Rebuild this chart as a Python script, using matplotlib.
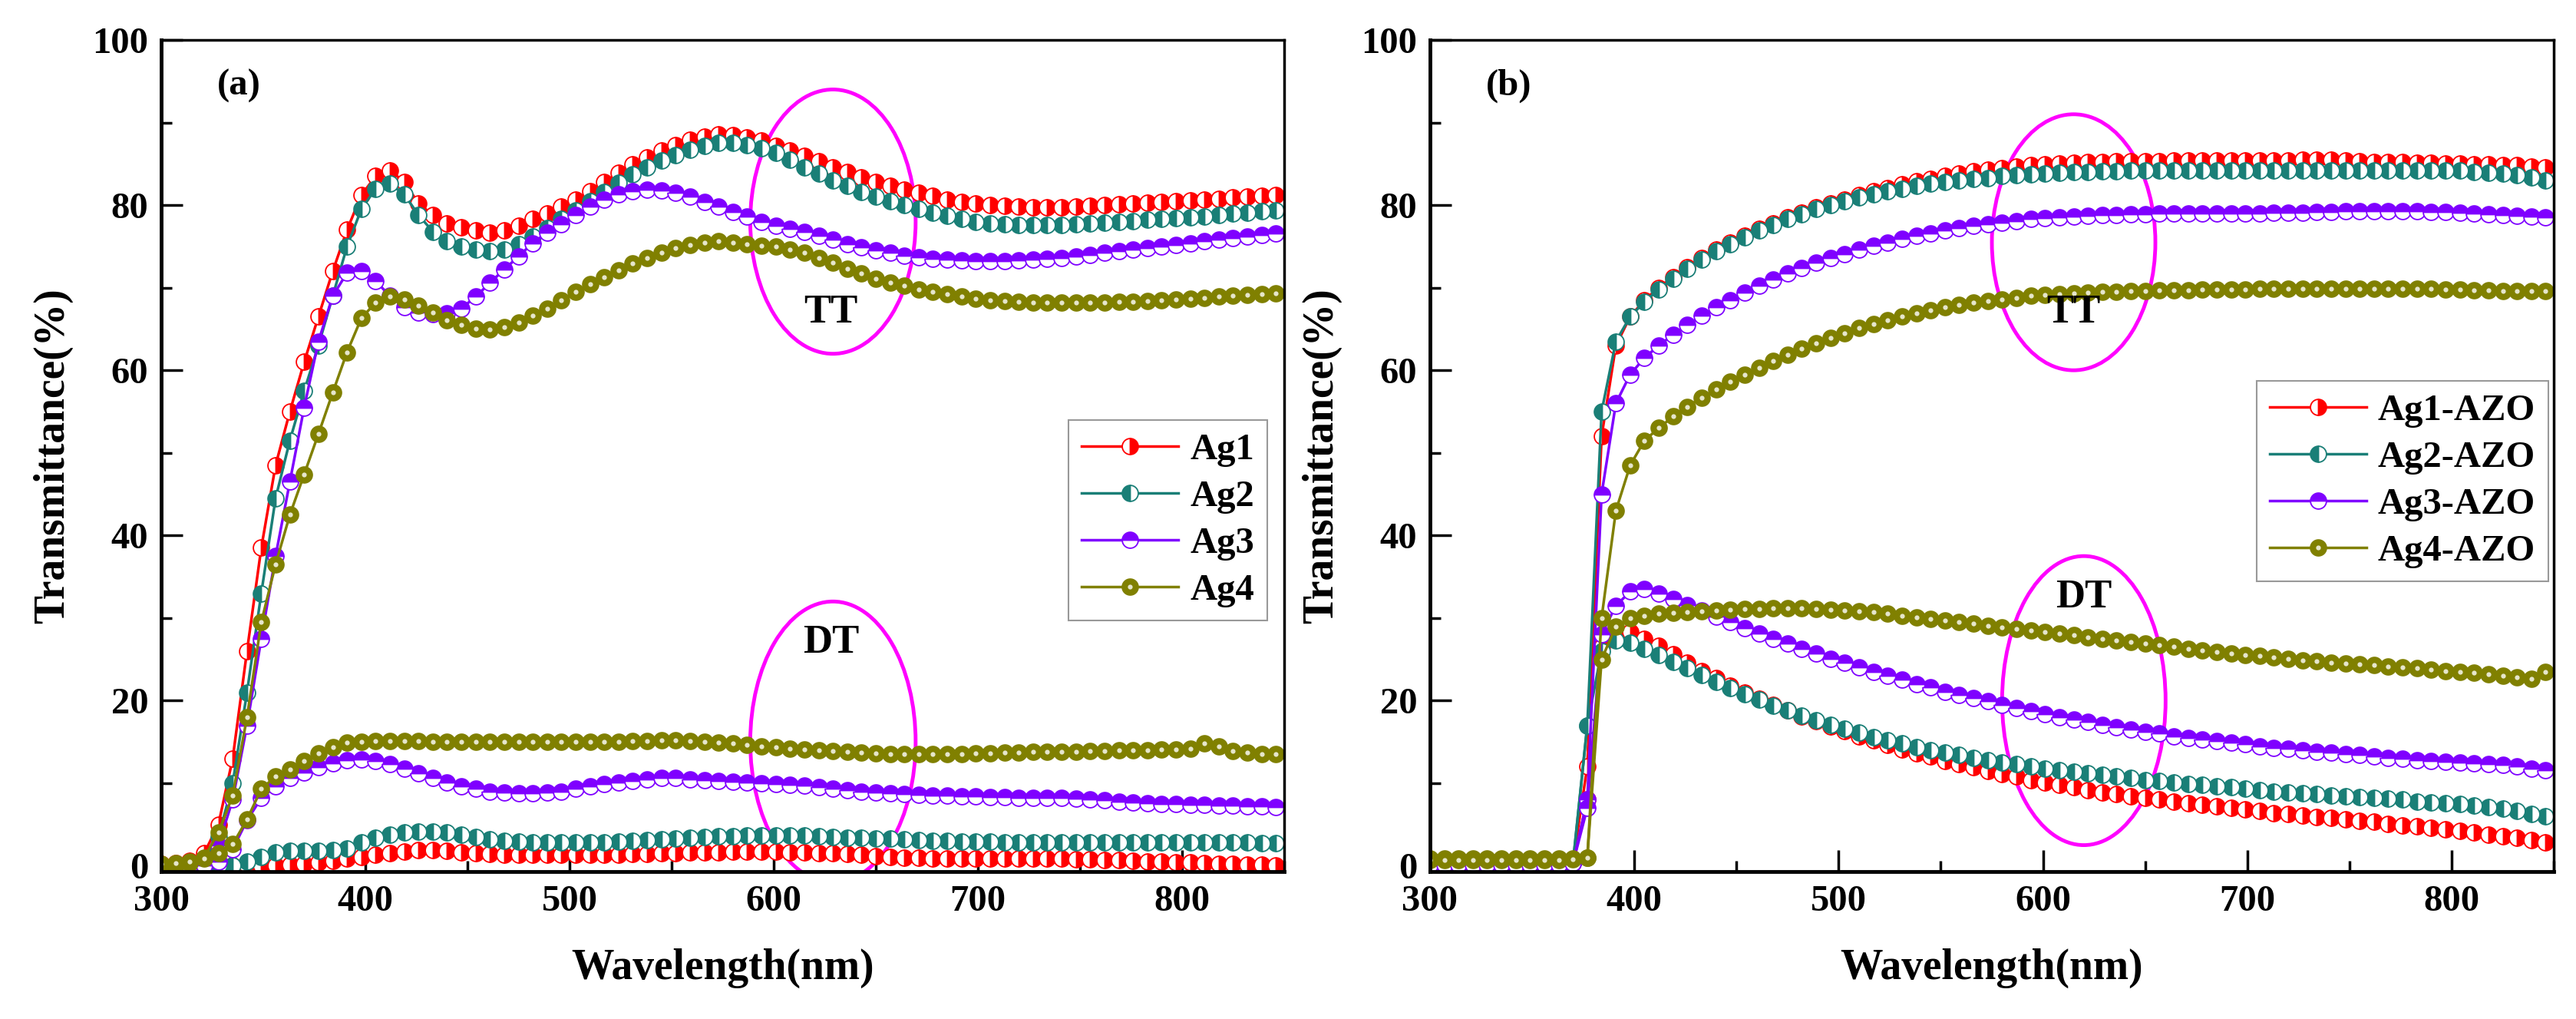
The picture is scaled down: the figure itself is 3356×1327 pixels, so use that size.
import numpy as np
import matplotlib
matplotlib.use("Agg")
import matplotlib.pyplot as plt
from matplotlib.patches import Ellipse
from matplotlib.ticker import MultipleLocator

plt.rcParams["font.family"] = ["Liberation Serif", "DejaVu Serif"]
plt.rcParams["font.weight"] = "bold"
plt.rcParams["axes.labelweight"] = "bold"

# wavelength of every plotted point (nm)
wavelength = np.array([
    300, 307, 314, 321, 328, 335, 342, 349, 356, 363,
    370, 377, 384, 391, 398, 405, 412, 419, 426, 433,
    440, 447, 454, 461, 468, 475, 482, 489, 496, 503,
    510, 517, 524, 531, 538, 545, 552, 559, 566, 573,
    580, 587, 594, 601, 608, 615, 622, 629, 636, 643,
    650, 657, 664, 671, 678, 685, 692, 699, 706, 713,
    720, 727, 734, 741, 748, 755, 762, 769, 776, 783,
    790, 797, 804, 811, 818, 825, 832, 839, 846,
])

# ---- panel (a): total transmittance ----
ag1_tt_a = [
    0.2, 0.3, 0.6, 1.5, 5.0, 13.0, 26.0, 38.5, 48.5, 55.0,
    61.0, 66.5, 72.0, 77.0, 81.2, 83.5, 84.2, 82.8, 80.2, 78.8,
    77.8, 77.3, 76.9, 76.7, 76.9, 77.5, 78.3, 79.0, 79.8, 80.7,
    81.7, 82.8, 83.9, 84.9, 85.8, 86.6, 87.3, 87.9, 88.3, 88.6,
    88.5, 88.2, 87.8, 87.2, 86.6, 86.0, 85.3, 84.6, 84.0, 83.4,
    82.8, 82.3, 81.9, 81.5, 81.1, 80.7, 80.4, 80.2, 80.0, 79.9,
    79.8, 79.7, 79.7, 79.7, 79.8, 79.9, 80.0, 80.1, 80.2, 80.3,
    80.4, 80.5, 80.6, 80.7, 80.8, 80.9, 81.0, 81.1, 81.2,
]
ag2_tt_a = [
    0.0, 0.0, 0.2, 0.8, 3.5, 10.0, 21.0, 33.0, 44.5, 51.5,
    57.5, 63.0, 69.0, 75.0, 79.5, 82.0, 82.6, 81.3, 78.8, 76.8,
    75.6, 75.0, 74.6, 74.4, 74.6, 75.3, 76.2, 77.2, 78.3, 79.4,
    80.5, 81.6, 82.7, 83.7, 84.6, 85.4, 86.1, 86.7, 87.2, 87.5,
    87.5, 87.3, 86.9, 86.3, 85.5, 84.6, 83.8, 83.0, 82.3, 81.6,
    81.0, 80.5, 80.0, 79.5, 79.1, 78.7, 78.3, 78.0, 77.8, 77.7,
    77.6, 77.6, 77.6, 77.6, 77.7, 77.8, 77.9, 78.0, 78.1, 78.2,
    78.3, 78.4, 78.5, 78.6, 78.8, 79.0, 79.1, 79.3, 79.4,
]
ag3_tt_a = [
    0.0, 0.0, 0.0, 0.5, 2.5, 8.0, 17.0, 27.5, 37.5, 46.5,
    55.5, 63.5, 69.0, 71.8, 72.0, 70.8, 69.0, 67.6, 67.0, 66.8,
    66.9, 67.5, 68.9, 70.6, 72.2, 73.8, 75.4, 76.7, 77.7, 78.8,
    79.8, 80.7, 81.3, 81.7, 81.9, 81.8, 81.5, 81.0, 80.4, 79.8,
    79.2, 78.6, 78.0, 77.5, 77.1, 76.8, 76.3, 75.8, 75.3, 74.9,
    74.5, 74.2, 73.9, 73.7, 73.5, 73.4, 73.3, 73.2, 73.2, 73.2,
    73.3, 73.4, 73.5, 73.6, 73.8, 74.0, 74.2, 74.4, 74.6, 74.8,
    75.0, 75.2, 75.4, 75.6, 75.8, 76.0, 76.2, 76.4, 76.6,
]
ag4_tt_a = [
    0.0, 0.0, 0.3, 1.0, 4.0, 8.5, 18.0, 29.5, 36.5, 42.5,
    47.4, 52.3, 57.3, 62.2, 66.3, 68.2, 68.9, 68.6, 67.8, 67.0,
    66.1, 65.5, 65.0, 64.9, 65.2, 65.8, 66.6, 67.5, 68.5, 69.5,
    70.4, 71.3, 72.1, 72.9, 73.6, 74.2, 74.8, 75.2, 75.5, 75.6,
    75.5, 75.3, 75.1, 75.0, 74.6, 74.2, 73.6, 73.0, 72.3, 71.7,
    71.1, 70.6, 70.2, 69.8, 69.5, 69.2, 68.9, 68.7, 68.5, 68.4,
    68.3, 68.2, 68.2, 68.2, 68.2, 68.2, 68.2, 68.3, 68.3, 68.4,
    68.5, 68.6, 68.7, 68.8, 68.9, 69.0, 69.1, 69.2, 69.3,
]

# ---- panel (a): diffuse transmittance ----
ag1_dt_a = [
    0.0, 0.0, 0.0, 0.0, 0.0, 0.0, 0.0, 0.0, 0.0, 0.1,
    0.2, 0.4, 0.6, 0.9, 1.1, 1.3, 1.5, 1.7, 1.9, 1.9,
    1.8, 1.6, 1.5, 1.4, 1.3, 1.3, 1.3, 1.3, 1.3, 1.3,
    1.3, 1.3, 1.3, 1.4, 1.4, 1.5, 1.5, 1.6, 1.6, 1.6,
    1.7, 1.7, 1.7, 1.7, 1.6, 1.6, 1.5, 1.5, 1.4, 1.3,
    1.2, 1.1, 1.0, 1.0, 0.9, 0.9, 0.9, 0.9, 0.9, 0.9,
    0.9, 0.9, 0.9, 0.9, 0.8, 0.8, 0.7, 0.7, 0.6, 0.5,
    0.5, 0.4, 0.4, 0.3, 0.2, 0.2, 0.1, 0.1, 0.0,
]
ag2_dt_a = [
    0.0, 0.0, 0.0, 0.0, 0.0, 0.0, 0.5, 1.1, 1.6, 1.8,
    1.8, 1.8, 1.9, 2.1, 2.8, 3.4, 3.8, 4.0, 4.1, 4.1,
    4.0, 3.8, 3.5, 3.2, 3.0, 2.9, 2.8, 2.8, 2.8, 2.8,
    2.8, 2.8, 2.9, 3.0, 3.1, 3.2, 3.3, 3.4, 3.5, 3.6,
    3.6, 3.7, 3.7, 3.7, 3.7, 3.7, 3.6, 3.5, 3.4, 3.4,
    3.3, 3.3, 3.2, 3.1, 3.0, 3.0, 2.9, 2.9, 2.9, 2.8,
    2.8, 2.8, 2.8, 2.8, 2.8, 2.8, 2.8, 2.8, 2.8, 2.8,
    2.8, 2.8, 2.8, 2.8, 2.8, 2.8, 2.8, 2.7, 2.7,
]
ag3_dt_a = [
    0.0, 0.0, 0.0, 0.0, 0.5, 2.0, 5.5, 8.2, 9.6, 10.6,
    11.3, 11.9, 12.4, 12.8, 12.9, 12.7, 12.3, 11.8, 11.2, 10.6,
    10.1, 9.6, 9.3, 9.0, 8.9, 8.8, 8.8, 8.9, 9.0, 9.3,
    9.6, 9.9, 10.1, 10.3, 10.5, 10.6, 10.6, 10.5, 10.4, 10.3,
    10.2, 10.1, 10.0, 9.9, 9.8, 9.7, 9.5, 9.3, 9.2, 9.0,
    8.9, 8.8, 8.7, 8.6, 8.5, 8.5, 8.4, 8.4, 8.3, 8.3,
    8.2, 8.2, 8.2, 8.2, 8.1, 8.0, 7.9, 7.8, 7.7, 7.6,
    7.5, 7.5, 7.4, 7.4, 7.3, 7.3, 7.2, 7.2, 7.1,
]
ag4_dt_a = [
    0.2, 0.3, 0.5, 0.9, 1.5, 2.6, 5.6, 9.3, 10.8, 11.7,
    12.7, 13.6, 14.4, 14.9, 15.0, 15.1, 15.1, 15.1, 15.1, 15.0,
    15.0, 15.0, 15.0, 15.0, 15.0, 15.0, 15.0, 15.0, 15.0, 15.0,
    15.0, 15.0, 15.0, 15.1, 15.1, 15.2, 15.2, 15.1, 15.0, 14.9,
    14.8, 14.6, 14.5, 14.4, 14.2, 14.1, 14.0, 13.9, 13.8, 13.7,
    13.6, 13.5, 13.5, 13.5, 13.5, 13.5, 13.5, 13.6, 13.6, 13.7,
    13.7, 13.8, 13.8, 13.8, 13.8, 13.9, 13.9, 14.0, 14.0, 14.0,
    14.1, 14.1, 14.2, 14.8, 14.5, 13.9, 13.7, 13.5, 13.5,
]

# ---- panel (b): total transmittance ----
ag1_tt_b = [
    0.4, 0.4, 0.4, 0.4, 0.4, 0.4, 0.4, 0.4, 0.4, 0.4,
    0.5, 12.0, 52.0, 63.0, 66.5, 68.5, 70.0, 71.3, 72.5, 73.6,
    74.6, 75.5, 76.3, 77.1, 77.8, 78.5, 79.1, 79.7, 80.2, 80.7,
    81.2, 81.7, 82.1, 82.5, 82.9, 83.2, 83.5, 83.8, 84.1, 84.3,
    84.5, 84.7, 84.8, 84.9, 85.0, 85.1, 85.2, 85.2, 85.3, 85.3,
    85.3, 85.3, 85.4, 85.4, 85.4, 85.4, 85.4, 85.4, 85.4, 85.4,
    85.4, 85.5, 85.5, 85.5, 85.4, 85.3, 85.2, 85.2, 85.2, 85.1,
    85.1, 85.0, 85.0, 84.9, 84.9, 84.8, 84.8, 84.7, 84.6,
]
ag2_tt_b = [
    0.3, 0.3, 0.3, 0.3, 0.3, 0.3, 0.3, 0.3, 0.3, 0.3,
    0.4, 17.0, 55.0, 63.5, 66.5, 68.3, 69.8, 71.1, 72.3, 73.4,
    74.4, 75.3, 76.1, 76.9, 77.6, 78.3, 78.9, 79.5, 80.0, 80.5,
    80.9, 81.3, 81.7, 82.0, 82.3, 82.6, 82.8, 83.0, 83.2, 83.3,
    83.5, 83.6, 83.7, 83.8, 83.9, 84.0, 84.0, 84.1, 84.1, 84.2,
    84.2, 84.2, 84.2, 84.2, 84.2, 84.2, 84.2, 84.2, 84.2, 84.2,
    84.2, 84.2, 84.2, 84.2, 84.2, 84.2, 84.2, 84.2, 84.2, 84.2,
    84.2, 84.2, 84.2, 84.0, 83.9, 83.8, 83.6, 83.4, 83.0,
]
ag3_tt_b = [
    0.2, 0.2, 0.2, 0.2, 0.2, 0.2, 0.2, 0.2, 0.2, 0.2,
    0.3, 8.0, 45.0, 56.0, 59.5, 61.5, 63.0, 64.3, 65.5, 66.6,
    67.6, 68.5, 69.4, 70.2, 71.0, 71.7, 72.4, 73.0, 73.6, 74.1,
    74.6, 75.1, 75.5, 75.9, 76.3, 76.6, 76.9, 77.2, 77.5, 77.7,
    77.9, 78.1, 78.3, 78.4, 78.5, 78.6, 78.7, 78.8, 78.8, 78.9,
    78.9, 79.0, 79.0, 79.0, 79.0, 79.0, 79.0, 79.0, 79.0, 79.1,
    79.1, 79.1, 79.2, 79.2, 79.3, 79.3, 79.3, 79.3, 79.3, 79.3,
    79.2, 79.2, 79.1, 79.0, 78.9, 78.8, 78.7, 78.6, 78.5,
]
ag4_tt_b = [
    0.9, 0.9, 0.9, 0.9, 0.9, 0.9, 0.9, 0.9, 0.9, 0.9,
    0.9, 1.0, 30.0, 43.0, 48.5, 51.5, 53.0, 54.4, 55.6, 56.7,
    57.7, 58.6, 59.5, 60.3, 61.1, 61.9, 62.6, 63.3, 63.9, 64.5,
    65.1, 65.6, 66.1, 66.5, 66.9, 67.3, 67.6, 67.9, 68.2, 68.4,
    68.6, 68.8, 69.0, 69.1, 69.2, 69.3, 69.4, 69.5, 69.5, 69.6,
    69.6, 69.7, 69.7, 69.7, 69.8, 69.8, 69.8, 69.8, 69.9, 69.9,
    69.9, 69.9, 69.9, 69.9, 69.9, 69.9, 69.9, 69.9, 69.9, 69.9,
    69.9, 69.8, 69.8, 69.7, 69.7, 69.6, 69.6, 69.6, 69.6,
]

# ---- panel (b): diffuse transmittance ----
ag1_dt_b = [
    0.3, 0.3, 0.3, 0.3, 0.3, 0.3, 0.3, 0.3, 0.3, 0.3,
    0.3, 8.0, 26.5, 28.5, 28.3, 27.5, 26.6, 25.6, 24.6, 23.6,
    22.7, 21.8, 21.0, 20.2, 19.5, 18.8, 18.1, 17.5, 16.9, 16.3,
    15.7, 15.2, 14.6, 14.1, 13.6, 13.2, 12.7, 12.3, 11.9, 11.5,
    11.1, 10.8, 10.4, 10.1, 9.8, 9.5, 9.2, 8.9, 8.7, 8.4,
    8.2, 8.0, 7.8, 7.6, 7.4, 7.2, 7.0, 6.8, 6.6, 6.4,
    6.3, 6.1, 5.9, 5.8, 5.6, 5.4, 5.3, 5.1, 4.9, 4.8,
    4.6, 4.4, 4.2, 4.0, 3.8, 3.6, 3.4, 3.1, 2.8,
]
ag2_dt_b = [
    0.2, 0.2, 0.2, 0.2, 0.2, 0.2, 0.2, 0.2, 0.2, 0.2,
    0.3, 17.0, 26.0, 27.3, 27.0, 26.3, 25.5, 24.7, 23.9, 23.1,
    22.3, 21.5, 20.8, 20.1, 19.4, 18.8, 18.2, 17.6, 17.1, 16.6,
    16.1, 15.6, 15.2, 14.8, 14.4, 14.0, 13.7, 13.4, 13.1, 12.8,
    12.5, 12.3, 12.0, 11.8, 11.6, 11.4, 11.2, 11.0, 10.8, 10.6,
    10.4, 10.3, 10.1, 9.9, 9.8, 9.6, 9.5, 9.3, 9.2, 9.0,
    8.9, 8.8, 8.7, 8.5, 8.4, 8.3, 8.2, 8.1, 8.0, 7.8,
    7.7, 7.6, 7.5, 7.3, 7.1, 6.9, 6.6, 6.3, 6.0,
]
ag3_dt_b = [
    0.1, 0.1, 0.1, 0.1, 0.1, 0.1, 0.1, 0.1, 0.1, 0.1,
    0.3, 7.0, 28.0, 31.5, 33.2, 33.5, 33.0, 32.3, 31.6, 30.9,
    30.2, 29.5, 28.8, 28.1, 27.5, 26.9, 26.3, 25.7, 25.1, 24.6,
    24.0, 23.5, 23.0, 22.5, 22.0, 21.6, 21.1, 20.7, 20.3, 19.9,
    19.5, 19.1, 18.7, 18.4, 18.0, 17.7, 17.4, 17.1, 16.8, 16.5,
    16.2, 16.0, 15.7, 15.5, 15.3, 15.1, 14.9, 14.7, 14.5, 14.3,
    14.2, 14.0, 13.8, 13.7, 13.5, 13.4, 13.2, 13.1, 13.0, 12.8,
    12.7, 12.6, 12.5, 12.4, 12.3, 12.2, 12.0, 11.8, 11.6,
]
ag4_dt_b = [
    0.7, 0.7, 0.7, 0.7, 0.7, 0.7, 0.7, 0.7, 0.7, 0.7,
    0.8, 1.0, 25.0, 29.0, 30.0, 30.3, 30.5, 30.6, 30.7, 30.8,
    30.9, 31.0, 31.1, 31.1, 31.2, 31.2, 31.2, 31.1, 31.0, 30.9,
    30.8, 30.7, 30.5, 30.3, 30.1, 29.9, 29.7, 29.5, 29.3, 29.1,
    28.9, 28.7, 28.5, 28.3, 28.1, 27.9, 27.7, 27.5, 27.3, 27.1,
    26.9, 26.7, 26.5, 26.3, 26.1, 25.9, 25.7, 25.5, 25.4, 25.2,
    25.1, 24.9, 24.8, 24.6, 24.5, 24.4, 24.3, 24.1, 24.0, 23.9,
    23.8, 23.6, 23.5, 23.4, 23.2, 23.0, 22.8, 22.6, 23.5,
]

labels_a = ["Ag1", "Ag2", "Ag3", "Ag4"]
labels_b = ["Ag1-AZO", "Ag2-AZO", "Ag3-AZO", "Ag4-AZO"]
colors = ["#FF0000", "#1A7F77", "#7F00FF", "#808000"]
fills = ["right", "left", "top", "full"]
ELLIPSE_COLOR = "#FF00FF"


def draw_series(ax, y, color, fill, dotted):
    line, = ax.plot(wavelength, y, color=color, lw=2.5, marker="o", ms=15,
                    fillstyle=fill, mfc=color, mfcalt="white", mec=color,
                    mew=1.3)
    if not dotted:
        return line
    dot, = ax.plot(wavelength, y, ls="none", marker="o", ms=4.5,
                   mfc="#E6E6CC", mec="none")
    return (line, dot)


def style_axes(ax):
    ax.set_xlim(300, 850)
    ax.set_ylim(-0.7, 100)
    ax.xaxis.set_major_locator(MultipleLocator(100))
    ax.xaxis.set_minor_locator(MultipleLocator(50))
    ax.yaxis.set_major_locator(MultipleLocator(20))
    ax.yaxis.set_minor_locator(MultipleLocator(10))
    ax.tick_params(which="major", direction="in", length=20, width=2.5,
                   labelsize=35, pad=12)
    ax.tick_params(which="minor", direction="in", length=10, width=2.5)
    for sp in ax.spines.values():
        sp.set_linewidth(2.5)
    ax.spines["left"].set_linewidth(3.5)
    ax.spines["bottom"].set_linewidth(3.5)
    ax.set_xlabel("Wavelength(nm)", fontsize=40, labelpad=28)
    ax.set_ylabel("Transmittance(%)", fontsize=40, labelpad=18)


fig = plt.figure(figsize=(33.56, 13.27), dpi=100)
ax_a = fig.add_axes([0.0626, 0.1447, 0.4359, 0.8161])
ax_b = fig.add_axes([0.5551, 0.1447, 0.4363, 0.8161])

panels = [
    (ax_a, [ag1_tt_a, ag2_tt_a, ag3_tt_a, ag4_tt_a],
     [ag1_dt_a, ag2_dt_a, ag3_dt_a, ag4_dt_a], labels_a, "(a)",
     "upper left", (0.808, 0.543)),
    (ax_b, [ag1_tt_b, ag2_tt_b, ag3_tt_b, ag4_tt_b],
     [ag1_dt_b, ag2_dt_b, ag3_dt_b, ag4_dt_b], labels_b, "(b)",
     "upper right", (0.995, 0.59)),
]

for ax, tt_list, dt_list, labels, tag, loc, anchor in panels:
    handles = []
    for i in range(4):
        dotted = fills[i] == "full"
        h = draw_series(ax, tt_list[i], colors[i], fills[i], dotted)
        draw_series(ax, dt_list[i], colors[i], fills[i], dotted)
        handles.append(h)
    style_axes(ax)
    ax.text(0.05, 0.965, tag, transform=ax.transAxes, fontsize=35,
            fontweight="bold", ha="left", va="top")
    leg = ax.legend(handles, labels, fontsize=35, frameon=True,
                    fancybox=False, edgecolor="#999999", framealpha=1,
                    handlelength=2.6, handletextpad=0.3, borderpad=0.35,
                    labelspacing=0.35, loc=loc, bbox_to_anchor=anchor,
                    borderaxespad=0)
    leg.get_frame().set_linewidth(1.5)

# highlight ellipses and their labels
ax_a.add_patch(Ellipse((629, 78), 81, 32, fill=False, ec=ELLIPSE_COLOR, lw=3.5))
ax_a.add_patch(Ellipse((629, 15), 81, 34, fill=False, ec=ELLIPSE_COLOR, lw=3.5))
ax_a.text(628, 67, "TT", fontsize=38, fontweight="bold", ha="center", va="center")
ax_a.text(628, 27, "DT", fontsize=38, fontweight="bold", ha="center", va="center")

ax_b.add_patch(Ellipse((615, 75.5), 80, 31, fill=False, ec=ELLIPSE_COLOR, lw=3.5))
ax_b.add_patch(Ellipse((620, 20), 80, 35, fill=False, ec=ELLIPSE_COLOR, lw=3.5))
ax_b.text(615, 67, "TT", fontsize=38, fontweight="bold", ha="center", va="center")
ax_b.text(620, 32.5, "DT", fontsize=38, fontweight="bold", ha="center", va="center")

fig.savefig("out.png", dpi=100)
